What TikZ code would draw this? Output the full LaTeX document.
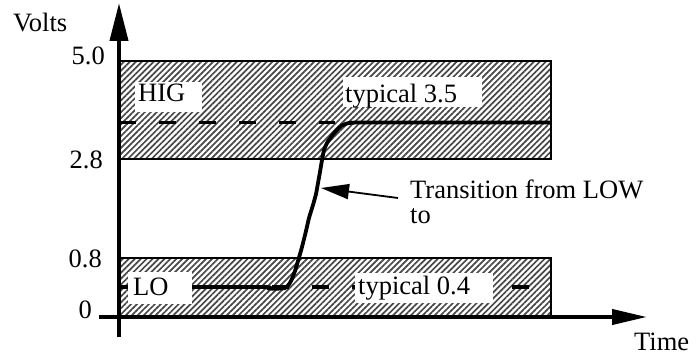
\documentclass[tikz,border=0pt]{standalone}
\usepackage{fontspec}
\setmainfont{Liberation Serif}
\usetikzlibrary{arrows.meta,patterns.meta}

\tikzset{
  band/.style={draw=black, line width=2pt,
    pattern={Lines[angle=45,distance=4.2pt,line width=1.7pt]}, pattern color=black!72},
  axis/.style={line width=4pt},
  levelline/.style={line width=3.6pt, dash pattern=on 17pt off 23pt},
  signal/.style={line width=3.8pt, line join=round, line cap=round},
  whitebox/.style={fill=white, draw=none, inner sep=0pt, anchor=north west},
  txt/.style={inner sep=0pt, font=\fontsize{26.5}{31}\selectfont},
}

\begin{document}
\begin{tikzpicture}[x=1pt,y=-1pt]
\useasboundingbox (0,0) rectangle (700,358);

% shaded tolerance bands
\node[band, inner sep=0pt, minimum width=431pt, minimum height=98pt, anchor=north west] (hiband) at (119,60) {};
\node[band, inner sep=0pt, minimum width=431pt, minimum height=60pt, anchor=north west] (loband) at (119,257) {};

% typical levels
\coordinate (hiL) at (119,122.5);
\coordinate (hiR) at (335,122.5);
\coordinate (loL) at (119,287);
\coordinate (loR) at (550,287);
\draw[levelline] (hiL) -- (hiR);
\draw[levelline, dash phase=7pt] (loL) -- (loR);

% the signal going from low to high
\coordinate (pt) at (321,188);
\draw[signal] plot[smooth, tension=0.4] coordinates {
  (119,287) (262,287) (268,288.5) (282,288.5) (287,287) (291,281)
  (295,271) (298,261) (302,247) (306,231) (309,218) (313,205)
  (316,194) (318,183) (320,172) (322,160) (324,150) (327,143)
  (331,137) (336,131) (341,126) (348,123.2) (356,122.5)}
  -- (550,122.5);

% axes
\coordinate (yb) at (119,337);
\coordinate (yt) at (119,3);
\coordinate (xl) at (99,317);
\coordinate (xr) at (647,317);
\draw[axis, -{Triangle[length=38pt,width=18pt]}] (yb) -- (yt);
\draw[axis, -{Triangle[length=35pt,width=15pt]}] (xl) -- (xr);

% labels on white boxes inside the bands
\node[whitebox, minimum width=67pt, minimum height=30pt] (higbox) at (135,82) {};
\node[txt, anchor=base west] (hig) at (138,102) {HIG};
\node[whitebox, minimum width=139pt, minimum height=30pt] (t35box) at (343,77) {};
\node[txt, anchor=base west] (t35) at (345,102.5) {typical 3.5};
\node[whitebox, minimum width=64pt, minimum height=32pt] (lobox) at (128,272) {};
\node[txt, anchor=base west] (lo) at (133,295) {LO};
\node[whitebox, minimum width=138pt, minimum height=30pt] (t04box) at (355,273) {};
\node[txt, anchor=base west] (t04) at (358,294) {typical 0.4};

% axis annotations
\node[txt, anchor=base west] (volts) at (13,32) {Volts};
\node[txt, anchor=base east] (v50) at (105,65) {5.0};
\node[txt, anchor=base east] (v28) at (103,168) {2.8};
\node[txt, anchor=base east] (v08) at (102,267) {0.8};
\node[txt, anchor=base east] (v0) at (92,318) {0};
\node[txt, anchor=base west] (time) at (634,350) {Time};

% transition callout
\node[txt, anchor=base west] (trans) at (410,198) {Transition from LOW};
\node[txt, anchor=base west] (to) at (410,223) {to};
\draw[line width=1.8pt, -{Triangle[length=28pt,width=15pt]}] ([xshift=-12pt]trans.base west) -- (pt);
\end{tikzpicture}
\end{document}
